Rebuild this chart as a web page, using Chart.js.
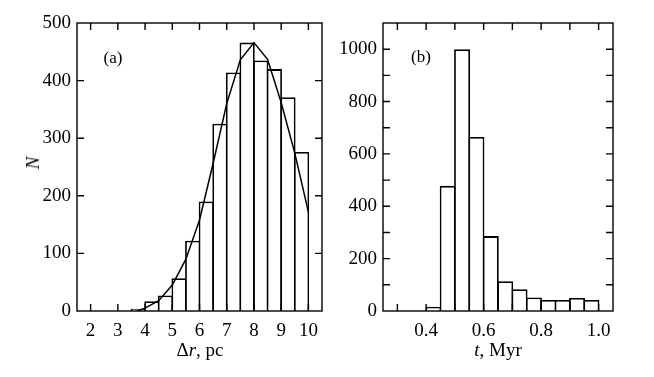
<!DOCTYPE html>
<html lang="en">
<head>
  <meta charset="UTF-8">
  <title>Histograms</title>
  <script src="https://cdn.jsdelivr.net/npm/chart.js"></script>
  <style>
    body { margin: 0; background: #fff; width: 654px; height: 377px; overflow: hidden; position: relative; }
    canvas { position: absolute; top: 0; }
    .lbl { position: absolute; font-family: "Liberation Serif", "Times New Roman", serif; font-size: 19px; color: #000;
           transform: translate(-50%, -50%); white-space: nowrap; }
  </style>
</head>
<body>
  <canvas id="chartA" width="340" height="377" style="left:0"></canvas>
  <canvas id="chartB" width="324" height="377" style="left:330px"></canvas>

  <div class="lbl" style="left:113px; top:58px; font-size:17px">(a)</div>
  <div class="lbl" style="left:421px; top:57px; font-size:17px">(b)</div>
  <div class="lbl" style="left:200px; top:350px">&Delta;<i>r</i>, pc</div>
  <div class="lbl" style="left:498px; top:350px"><i>t</i>, Myr</div>
  <div class="lbl" style="left:33px; top:163px; transform: translate(-50%, -50%) rotate(-90deg)"><i>N</i></div>

  <script>
    // panel (a): distance histogram, bins of 0.5 pc (left edges)
    const rEdges  = [3.5, 4.0, 4.5, 5.0, 5.5, 6.0, 6.5, 7.0, 7.5, 8.0, 8.5, 9.0, 9.5];
    const rCounts = [4, 17, 27, 57, 122, 190, 325, 414, 466, 435, 420, 371, 276];
    // fitted curve over panel (a)
    const fitR = [3.7, 4.0, 4.5, 5.0, 5.5, 6.0, 6.5, 7.0, 7.5, 8.0, 8.5, 9.0, 9.5, 10.0];
    const fitN = [0, 5, 18, 45, 90, 158, 256, 360, 436, 466, 437, 362, 274, 172];

    // panel (b): time histogram, bins of 0.05 Myr (left edges)
    const tEdges  = [0.40, 0.45, 0.50, 0.55, 0.60, 0.65, 0.70, 0.75, 0.80, 0.85, 0.90, 0.95];
    const tCounts = [16, 478, 1000, 665, 286, 114, 83, 52, 42, 42, 50, 42];

    const serif = { family: '"Liberation Serif", "Times New Roman", serif', size: 19 };

    // frame box and inward ticks on all four sides
    const frameTicks = {
      id: 'frameTicks',
      afterDatasetsDraw(chart) {
        const { ctx, chartArea: a, scales: { x, y } } = chart;
        const len = 7;
        ctx.save();
        ctx.strokeStyle = '#000';
        ctx.lineWidth = 1.4;
        ctx.beginPath();
        x.ticks.forEach(t => {
          const px = x.getPixelForValue(t.value);
          if (px <= a.left + 1 || px >= a.right - 1) return;
          ctx.moveTo(px, a.bottom); ctx.lineTo(px, a.bottom - len);
          ctx.moveTo(px, a.top); ctx.lineTo(px, a.top + len);
        });
        y.ticks.forEach(t => {
          const py = y.getPixelForValue(t.value);
          if (py <= a.top + 1 || py >= a.bottom - 1) return;
          ctx.moveTo(a.left, py); ctx.lineTo(a.left + len, py);
          ctx.moveTo(a.right, py); ctx.lineTo(a.right - len, py);
        });
        ctx.stroke();
        ctx.strokeRect(a.left, a.top, a.width, a.height);
        ctx.restore();
      }
    };

    function histOptions(opts) {
      return {
        responsive: false,
        animation: false,
        devicePixelRatio: 1,
        layout: { padding: { left: 0, top: 23, right: opts.padRight, bottom: 0 } },
        plugins: { legend: { display: false }, tooltip: { enabled: false } },
        scales: {
          x: {
            type: 'linear',
            min: opts.xMin, max: opts.xMax,
            grid: { display: false, drawTicks: false },
            border: { display: false },
            ticks: {
              stepSize: opts.xStep, autoSkip: false, maxRotation: 0, padding: 9,
              color: '#000', font: serif, callback: opts.xLabel
            },
            afterFit: s => { s.height = 66; }
          },
          y: {
            min: 0, max: opts.yMax,
            grid: { display: false, drawTicks: false },
            border: { display: false },
            ticks: {
              stepSize: 100, autoSkip: false, padding: 6,
              color: '#000', font: serif, callback: opts.yLabel
            },
            afterFit: s => { s.width = opts.yWidth; }
          }
        }
      };
    }

    // bars overlap by one border width so shared edges show a single line
    function barStyle(overlap) {
      return {
        backgroundColor: '#fff',
        borderColor: '#000',
        borderWidth: 1.8,
        barPercentage: overlap,
        categoryPercentage: 1,
        order: 1
      };
    }

    function draw() {
      new Chart(document.getElementById('chartA'), {
        type: 'bar',
        data: {
          datasets: [
            Object.assign({
              data: rEdges.map((e, i) => ({ x: e + 0.25, y: rCounts[i] }))
            }, barStyle(1.118)),
            {
              type: 'line',
              data: fitR.map((r, i) => ({ x: r, y: fitN[i] })),
              borderColor: '#000',
              borderWidth: 1.5,
              pointRadius: 0,
              tension: 0,
              order: 0
            }
          ]
        },
        options: histOptions({
          padRight: 18, yWidth: 77, xMin: 2, xMax: 10, xStep: 1, yMax: 500,
          xLabel: v => String(v),
          yLabel: v => String(v)
        }),
        plugins: [frameTicks]
      });

      new Chart(document.getElementById('chartB'), {
        type: 'bar',
        data: {
          datasets: [
            Object.assign({
              data: tEdges.map((e, i) => ({ x: e + 0.025, y: tCounts[i] }))
            }, barStyle(1.109))
          ]
        },
        options: histOptions({
          padRight: 41, yWidth: 53, xMin: 0.3, xMax: 1.0, xStep: 0.1, yMax: 1100,
          xLabel: v => {
            const k = Math.round(v * 10);
            return (k >= 4 && k % 2 === 0) ? (k / 10).toFixed(1) : '';
          },
          yLabel: v => (v % 200 === 0 && v <= 1000) ? String(v) : ''
        }),
        plugins: [frameTicks]
      });
    }

    document.fonts.load('19px "Liberation Serif"').then(draw, draw);
  </script>
</body>
</html>
